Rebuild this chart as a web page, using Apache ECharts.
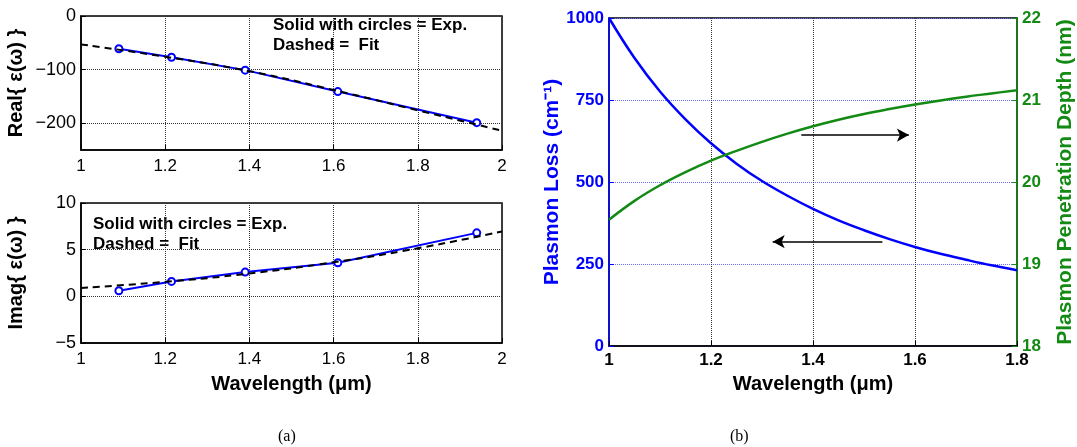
<!DOCTYPE html>
<html>
<head>
<meta charset="utf-8">
<script src="https://cdn.jsdelivr.net/npm/echarts@6/dist/echarts.min.js"></script>
<style>
  html, body { margin: 0; padding: 0; background: #fff; }
  #chart { width: 1077px; height: 447px; }
</style>
</head>
<body>
<div id="chart"></div>
<script>
// (a) measured permittivity and fit
var wavelengthExp = [1.09, 1.215, 1.39, 1.61, 1.94];
var realExp = [-61, -77, -101, -141, -199];
var imagExp = [0.6, 1.6, 2.6, 3.6, 6.8];
var wavelengthFit = [1.0, 1.2, 1.4, 1.6, 1.8, 2.0];
var realFit = [-53, -76, -103, -138, -176, -214];
var imagFit = [0.9, 1.55, 2.45, 3.65, 5.15, 6.95];

// (b) plasmon loss and penetration depth
var wavelengthB = [1.0, 1.05, 1.1, 1.15, 1.2, 1.25, 1.3, 1.35, 1.4, 1.45, 1.5, 1.55, 1.6, 1.65, 1.7, 1.75, 1.8];
var plasmonLoss = [1000, 878, 776, 691, 618, 556, 503, 458, 418, 383, 353, 326, 302, 281, 263, 246, 231];
var penetrationDepth = [19.54, 19.77, 19.96, 20.12, 20.26, 20.38, 20.49, 20.59, 20.68, 20.76, 20.83, 20.89, 20.945, 20.995, 21.04, 21.08, 21.12];

// arrows in (b), in loss-axis units: [x start, x end, y]
var arrowRight = [1.377, 1.588, 643];
var arrowLeft = [1.536, 1.321, 318];

var BLUE = '#0000ff';
var GREEN = '#138a13';

function pairs(xs, ys) {
    return xs.map(function (x, i) { return [x, ys[i]]; });
}
function minus(v) {
    return String(v).replace('-', '\u2212');
}

var dom = document.getElementById('chart');
var myChart = echarts.init(dom);

var gridLine = { show: true, lineStyle: { type: 'dotted', color: '#333', width: 1 } };
var tickIn = { show: true, inside: true, length: 5, lineStyle: { color: '#000' } };
var plainLabel = { fontFamily: 'Liberation Sans, Arial', fontSize: 17, color: '#000', formatter: minus };
var boldLabel = { fontFamily: 'Liberation Sans, Arial', fontSize: 17, fontWeight: 'bold', color: '#000', formatter: function (v) { return String(v); } };
var blackLine = { show: true, onZero: false, lineStyle: { color: '#000', width: 1.5 } };

var option = {
    animation: false,
    backgroundColor: '#fff',
    grid: [
        { left: 81, top: 16, width: 421, height: 134, show: true, borderColor: '#000', borderWidth: 1.5 },
        { left: 81, top: 203, width: 421, height: 140, show: true, borderColor: '#000', borderWidth: 1.5 },
        { left: 609, top: 18, width: 414, height: 328, show: true, borderColor: '#000', borderWidth: 1.5 }
    ],
    xAxis: [
        {
            type: 'value', gridIndex: 0, min: 1, max: 2, interval: 0.2,
            axisLine: blackLine, axisTick: tickIn, splitLine: gridLine,
            axisLabel: Object.assign({ margin: 8 }, plainLabel)
        },
        {
            type: 'value', gridIndex: 1, min: 1, max: 2, interval: 0.2,
            axisLine: blackLine, axisTick: tickIn, splitLine: gridLine,
            axisLabel: Object.assign({ margin: 8 }, plainLabel),
            name: 'Wavelength (\u03bcm)', nameLocation: 'middle', nameGap: 31,
            nameTextStyle: { fontFamily: 'Liberation Sans, Arial', fontSize: 20, fontWeight: 'bold', color: '#000' }
        },
        {
            type: 'value', gridIndex: 2, min: 1, max: 1.8, interval: 0.2,
            axisLine: blackLine, axisTick: tickIn, splitLine: gridLine,
            axisLabel: Object.assign({ margin: 6 }, boldLabel),
            name: 'Wavelength (\u03bcm)', nameLocation: 'middle', nameGap: 28,
            nameTextStyle: { fontFamily: 'Liberation Sans, Arial', fontSize: 20, fontWeight: 'bold', color: '#000' }
        }
    ],
    yAxis: [
        {
            type: 'value', gridIndex: 0, min: -250, max: 0,
            axisLine: blackLine,
            axisTick: Object.assign({ customValues: [-200, -100, 0] }, tickIn),
            splitLine: gridLine,
            axisLabel: Object.assign({ margin: 5, customValues: [-200, -100, 0] }, plainLabel, { fontSize: 18 }),
            name: 'Real{ \u03b5(\u03c9) }', nameLocation: 'middle', nameGap: 55, nameRotate: 90,
            nameTextStyle: { fontFamily: 'Liberation Sans, Arial', fontSize: 20, fontWeight: 'bold', color: '#000' }
        },
        {
            type: 'value', gridIndex: 1, min: -5, max: 10, interval: 5,
            axisLine: blackLine, axisTick: tickIn, splitLine: gridLine,
            axisLabel: Object.assign({ margin: 5 }, plainLabel, { fontSize: 18 }),
            name: 'Imag{ \u03b5(\u03c9) }', nameLocation: 'middle', nameGap: 55, nameRotate: 90,
            nameTextStyle: { fontFamily: 'Liberation Sans, Arial', fontSize: 20, fontWeight: 'bold', color: '#000' }
        },
        {
            type: 'value', gridIndex: 2, min: 0, max: 1000, interval: 250,
            axisLine: { show: true, onZero: false, lineStyle: { color: BLUE, width: 1.5 } },
            axisTick: { show: true, inside: true, length: 5, lineStyle: { color: BLUE } },
            splitLine: { show: true, lineStyle: { type: 'dotted', color: '#6b6bff', width: 1 } },
            axisLabel: Object.assign({ margin: 5 }, boldLabel, { color: BLUE }),
            name: 'Plasmon Loss (cm\u207b\u00b9)', nameLocation: 'middle', nameGap: 46, nameRotate: 90,
            nameTextStyle: { fontFamily: 'Liberation Sans, Arial', fontSize: 21, fontWeight: 'bold', color: BLUE }
        },
        {
            type: 'value', gridIndex: 2, position: 'right', min: 18, max: 22, interval: 1,
            axisLine: { show: true, onZero: false, lineStyle: { color: GREEN, width: 1.5 } },
            axisTick: { show: true, inside: true, length: 5, lineStyle: { color: GREEN } },
            splitLine: { show: false },
            axisLabel: Object.assign({ margin: 5 }, boldLabel, { color: GREEN }),
            name: 'Plasmon Penetration Depth (nm)', nameLocation: 'middle', nameGap: 38, nameRotate: 90,
            nameTextStyle: { fontFamily: 'Liberation Sans, Arial', fontSize: 21, fontWeight: 'bold', color: GREEN }
        }
    ],
    series: [
        {
            name: 'Real fit', type: 'line', xAxisIndex: 0, yAxisIndex: 0,
            data: pairs(wavelengthFit, realFit), showSymbol: false, smooth: true, z: 3,
            lineStyle: { color: '#000', width: 2, type: [7, 5] }
        },
        {
            name: 'Real exp', type: 'line', xAxisIndex: 0, yAxisIndex: 0,
            data: pairs(wavelengthExp, realExp), symbol: 'emptyCircle', symbolSize: 7, z: 2,
            lineStyle: { color: BLUE, width: 2 }, itemStyle: { color: BLUE, borderWidth: 2 }
        },
        {
            name: 'Imag fit', type: 'line', xAxisIndex: 1, yAxisIndex: 1,
            data: pairs(wavelengthFit, imagFit), showSymbol: false, smooth: true, z: 3,
            lineStyle: { color: '#000', width: 2, type: [7, 5] }
        },
        {
            name: 'Imag exp', type: 'line', xAxisIndex: 1, yAxisIndex: 1,
            data: pairs(wavelengthExp, imagExp), symbol: 'emptyCircle', symbolSize: 7, z: 2,
            lineStyle: { color: BLUE, width: 2 }, itemStyle: { color: BLUE, borderWidth: 2 }
        },
        {
            name: 'Plasmon Loss', type: 'line', xAxisIndex: 2, yAxisIndex: 2,
            data: pairs(wavelengthB, plasmonLoss), showSymbol: false, smooth: 0.4,
            lineStyle: { color: BLUE, width: 2.5 },
            markLine: {
                silent: true, symbolSize: [10, 12], label: { show: false },
                lineStyle: { color: '#000', width: 1.5, type: 'solid' },
                data: [
                    [{ coord: [arrowRight[0], arrowRight[2]], symbol: 'none' }, { coord: [arrowRight[1], arrowRight[2]], symbol: 'arrow' }],
                    [{ coord: [arrowLeft[0], arrowLeft[2]], symbol: 'none' }, { coord: [arrowLeft[1], arrowLeft[2]], symbol: 'arrow' }]
                ]
            }
        },
        {
            name: 'Penetration Depth', type: 'line', xAxisIndex: 2, yAxisIndex: 3,
            data: pairs(wavelengthB, penetrationDepth), showSymbol: false, smooth: 0.4,
            lineStyle: { color: GREEN, width: 2.5 }
        }
    ],
    graphic: [
        { type: 'text', left: 273, top: 15, style: { text: 'Solid with circles = Exp.\nDashed =  Fit', lineHeight: 20, font: 'bold 17px "Liberation Sans", Arial', fill: '#000' } },
        { type: 'text', left: 93, top: 214, style: { text: 'Solid with circles = Exp.\nDashed =  Fit', lineHeight: 20, font: 'bold 17px "Liberation Sans", Arial', fill: '#000' } },
        { type: 'text', left: 278, top: 429, style: { text: '(a)', font: '16px "Liberation Serif", serif', fill: '#000' } },
        { type: 'text', left: 730, top: 429, style: { text: '(b)', font: '16px "Liberation Serif", serif', fill: '#000' } }
    ]
};

if (option && typeof option === 'object') {
    myChart.setOption(option, true);
}
</script>
</body>
</html>
